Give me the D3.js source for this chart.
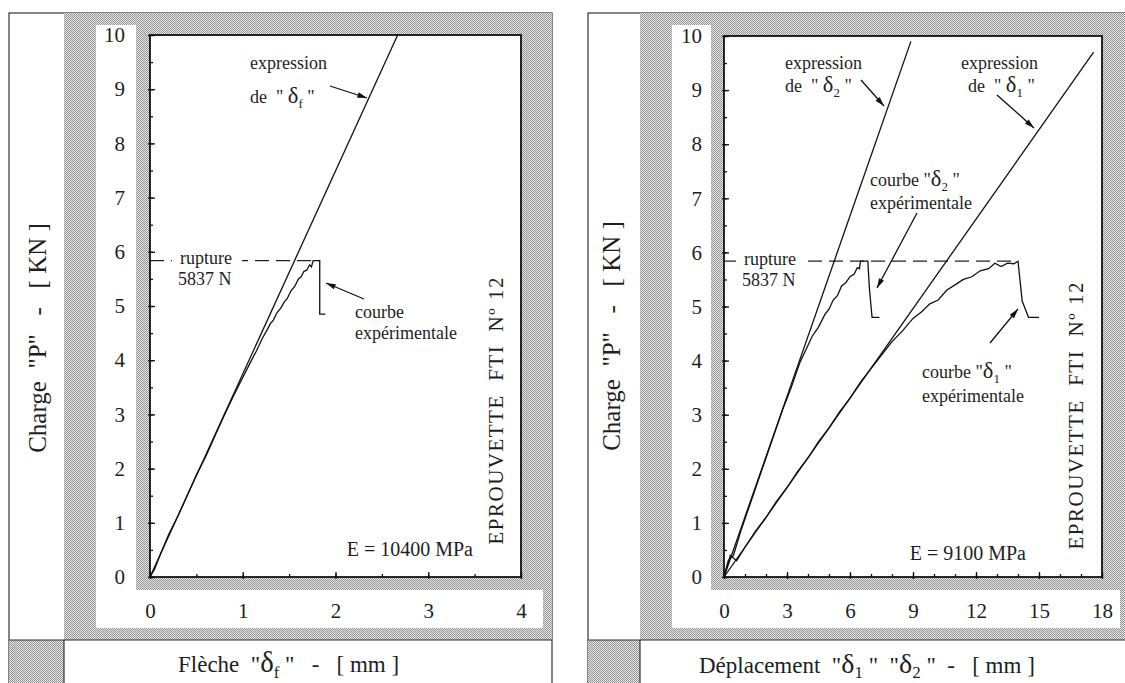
<!DOCTYPE html>
<html>
<head>
<meta charset="utf-8">
<script src="https://d3js.org/d3.v7.min.js"></script>
<style>
  text, tspan { font-family: "Liberation Serif", "Times New Roman", Tinos, serif; }
</style>
</head>
<body style="margin:0">
<script>
// ---- données ----
const chargeTicks = [0, 1, 2, 3, 4, 5, 6, 7, 8, 9, 10];
const rupture = 5.837;   // kN

// figure de gauche : flèche δf
const flecheTicks = [0, 1, 2, 3, 4];
const flecheTheo = [[0, 0], [2.67, 10]];
const flecheExp = [
  [0.00, 0.00], [0.05, 0.15], [0.12, 0.45], [0.20, 0.78], [0.30, 1.12], [0.40, 1.50],
  [0.50, 1.88], [0.60, 2.22], [0.70, 2.60], [0.80, 2.98], [0.90, 3.34], [1.00, 3.68],
  [1.08, 3.95], [1.15, 4.18], [1.21, 4.40], [1.26, 4.55], [1.30, 4.68], [1.33, 4.74],
  [1.37, 4.88], [1.41, 4.96], [1.45, 5.08], [1.48, 5.14], [1.52, 5.28], [1.56, 5.36],
  [1.60, 5.50], [1.63, 5.54], [1.66, 5.64], [1.69, 5.66], [1.72, 5.76], [1.74, 5.72],
  [1.76, 5.837], [1.83, 5.837], [1.83, 4.85], [1.89, 4.85]
];

// figure de droite : déplacements δ1 et δ2
const deplTicks = [0, 3, 6, 9, 12, 15, 18];
const delta2Theo = [[0, 0], [8.9, 9.9]];
const delta1Theo = [[0, 0], [17.6, 9.7]];
const delta2Exp = [
  [0.0, 0.0], [0.2, 0.3], [0.45, 0.4], [0.8, 0.85], [1.2, 1.3], [1.6, 1.75], [2.0, 2.2],
  [2.4, 2.65], [2.8, 3.1], [3.2, 3.5], [3.6, 3.95], [3.9, 4.2], [4.2, 4.45], [4.5, 4.62],
  [4.8, 4.85], [5.0, 4.95], [5.2, 5.12], [5.4, 5.2], [5.6, 5.38], [5.8, 5.44], [6.0, 5.55],
  [6.2, 5.6], [6.35, 5.72], [6.45, 5.7], [6.5, 5.837], [6.85, 5.837], [6.92, 5.35],
  [7.05, 4.8], [7.4, 4.8]
];
const delta1Exp = [
  [0, 0], [0.3, 0.4], [0.6, 0.3], [1.0, 0.55], [1.5, 0.85], [2.0, 1.1], [2.5, 1.4], [3.0, 1.65],
  [3.5, 1.95], [4.0, 2.2], [4.5, 2.5], [5.0, 2.75], [5.5, 3.05], [6.0, 3.3], [6.5, 3.6],
  [7.0, 3.85], [7.5, 4.1], [8.0, 4.35], [8.5, 4.55], [9.0, 4.78], [9.4, 4.9], [9.8, 5.05],
  [10.2, 5.12], [10.6, 5.3], [11.0, 5.4], [11.4, 5.5], [11.8, 5.55], [12.2, 5.66], [12.6, 5.7],
  [12.9, 5.8], [13.2, 5.74], [13.5, 5.8], [13.8, 5.79], [14.0, 5.837], [14.2, 5.1],
  [14.3, 5.0], [14.5, 4.8], [15.0, 4.8]
];

const FONT = "Liberation Serif, Times New Roman, Tinos, serif";
const INK = "#1e1e1e";

// ---- svg ----
const svg = d3.select("body").append("svg")
  .attr("width", 1125).attr("height", 683)
  .attr("font-family", FONT);

const defs = svg.append("defs");
const pat = defs.append("pattern").attr("id", "hatch")
  .attr("width", 2).attr("height", 2).attr("patternUnits", "userSpaceOnUse");
pat.append("rect").attr("width", 2).attr("height", 2).attr("fill", "#e4e4e4");
pat.append("rect").attr("width", 1).attr("height", 1).attr("fill", "#969696");
pat.append("rect").attr("x", 1).attr("y", 1).attr("width", 1).attr("height", 1).attr("fill", "#969696");

defs.append("marker").attr("id", "arrow")
  .attr("viewBox", "0 0 12 10").attr("refX", 12).attr("refY", 5)
  .attr("markerWidth", 12).attr("markerHeight", 8)
  .attr("markerUnits", "userSpaceOnUse").attr("orient", "auto")
  .append("path").attr("d", "M0,1.5 L12,5 L0,8.5 Z").attr("fill", "#111");

function txt(g, size) {
  return g.append("text")
    .attr("font-family", FONT).attr("font-size", size)
    .style("white-space", "pre").attr("fill", INK);
}

// cadre, fonds tramés, axes
function drawPanel(p) {
  const g = svg.append("g");
  g.append("rect").attr("x", p.x0).attr("y", p.y0)
    .attr("width", p.x1 - p.x0).attr("height", 700 - p.y0)
    .attr("fill", "#fff").attr("stroke", "#333").attr("stroke-width", 1.2);
  g.append("rect").attr("x", p.col).attr("y", p.y0)
    .attr("width", p.x1 - p.col).attr("height", p.yDiv - p.y0).attr("fill", "url(#hatch)");
  g.append("rect").attr("x", p.inX).attr("y", p.inY)
    .attr("width", p.inR - p.inX).attr("height", p.inB - p.inY).attr("fill", "#fff");
  g.append("rect").attr("x", p.backX).attr("y", p.inY)
    .attr("width", p.inR - p.backX).attr("height", p.backB - p.inY).attr("fill", "url(#hatch)");
  // bas : case tramée + titre
  g.append("rect").attr("x", p.x0).attr("y", p.yDiv)
    .attr("width", p.col - p.x0).attr("height", 700 - p.yDiv).attr("fill", "url(#hatch)");
  g.append("line").attr("x1", p.x0).attr("x2", p.x1).attr("y1", p.yDiv).attr("y2", p.yDiv)
    .attr("stroke", "#333").attr("stroke-width", 1.2);
  g.append("line").attr("x1", p.col).attr("x2", p.col).attr("y1", p.yDiv).attr("y2", 700)
    .attr("stroke", "#333").attr("stroke-width", 1.2);

  const x = d3.scaleLinear().domain(p.xDomain).range([p.plotL, p.plotR]);
  const y = d3.scaleLinear().domain([0, 10]).range([p.plotB, p.plotT]);

  g.append("rect").attr("x", p.plotL).attr("y", p.plotT)
    .attr("width", p.plotR - p.plotL).attr("height", p.plotB - p.plotT).attr("fill", "#fff");

  // petites graduations
  g.append("g").attr("transform", `translate(${p.plotL},0)`)
    .call(d3.axisLeft(y).tickValues(d3.range(0, 10.01, 0.5)).tickSize(-3).tickFormat(""))
    .call(a => a.select(".domain").remove());
  g.append("g").attr("transform", `translate(0,${p.plotB})`)
    .call(d3.axisBottom(x).tickValues(d3.range(0, p.xDomain[1] + 0.01, p.xMinor)).tickSize(-3).tickFormat(""))
    .call(a => a.select(".domain").remove());

  // graduations principales
  g.append("g").attr("transform", `translate(${p.plotL},0)`)
    .call(d3.axisLeft(y).tickValues(chargeTicks).tickSize(-5).tickPadding(p.yPad).tickFormat(d3.format("d")))
    .call(a => a.select(".domain").remove())
    .call(a => a.selectAll(".tick line").attr("x1", -2));
  g.append("g").attr("transform", `translate(0,${p.plotB})`)
    .call(d3.axisBottom(x).tickValues(p.xTicks).tickSize(-5).tickPadding(26).tickFormat(d3.format("d")))
    .call(a => a.select(".domain").remove())
    .call(a => a.selectAll(".tick line").attr("y1", 2));
  g.selectAll("g").attr("font-family", FONT).attr("font-size", 21);
  g.selectAll(".tick line").attr("stroke", "#111").attr("stroke-width", 1.3);
  g.selectAll(".tick text").attr("font-family", FONT).attr("fill", INK);

  g.append("rect").attr("x", p.plotL).attr("y", p.plotT)
    .attr("width", p.plotR - p.plotL).attr("height", p.plotB - p.plotT)
    .attr("fill", "none").attr("stroke", "#111").attr("stroke-width", 1.8);

  // titre de l'axe des charges
  txt(g, 25)
    .attr("transform", `translate(${p.yTitleX},${p.yTitleY}) rotate(-90)`)
    .attr("text-anchor", "middle")
    .text('Charge  "P"   -   [ KN ]');

  return { g, x, y };
}

const line = (x, y) => d3.line().x(d => x(d[0])).y(d => y(d[1]));

function deltaText(g, x, y, pre, sub, post, size) {
  const t = txt(g, size).attr("x", x).attr("y", y);
  t.append("tspan").text(pre);
  t.append("tspan").text("δ").attr("font-size", size * 1.25);
  t.append("tspan").attr("dy", size * 0.25).attr("font-size", size * 0.72).text(sub);
  t.append("tspan").attr("dy", -size * 0.25).text(post);
  return t;
}

function arrow(g, x1, y1, x2, y2) {
  g.append("line").attr("x1", x1).attr("y1", y1).attr("x2", x2).attr("y2", y2)
    .attr("stroke", "#111").attr("stroke-width", 1.3).attr("marker-end", "url(#arrow)");
}

function note(g, x, y, s, size) {
  return txt(g, size).attr("x", x).attr("y", y).text(s);
}

function ruptureLine(g, x, y, peakX, tx, ty, gap) {
  g.append("line")
    .attr("x1", x(0)).attr("x2", x(peakX)).attr("y1", y(rupture)).attr("y2", y(rupture))
    .attr("stroke", "#222").attr("stroke-width", 1.2).attr("stroke-dasharray", "14,7");
  g.append("rect").attr("x", tx - 8).attr("y", y(rupture) - 4)
    .attr("width", gap).attr("height", 8).attr("fill", "#fff");
  note(g, tx, ty, "rupture", 18);
  note(g, tx - 2, ty + 21, "5837 N", 18);
}

// ---- figure de gauche ----
const L = drawPanel({
  x0: 9, col: 64, x1: 552, y0: 13, yDiv: 640,
  inX: 96, inY: 25, inR: 543, inB: 628, backX: 136, backB: 590,
  plotL: 150, plotR: 521, plotT: 35, plotB: 577,
  xDomain: [0, 4], xTicks: flecheTicks, xMinor: 0.5, yPad: 25,
  yTitleX: 46, yTitleY: 338
});
{
  const { g, x, y } = L;
  const peak = d3.max(flecheExp.filter(d => d[1] === rupture), d => d[0]);
  ruptureLine(g, x, y, peak, 180, 264, 70);
  g.append("path").datum(flecheTheo).attr("d", line(x, y))
    .attr("fill", "none").attr("stroke", "#111").attr("stroke-width", 1.3);
  g.append("path").datum(flecheExp).attr("d", line(x, y))
    .attr("fill", "none").attr("stroke", "#111").attr("stroke-width", 1.3);

  note(g, 250, 69, "expression", 18);
  deltaText(g, 250, 103, 'de  " ', "f", ' "', 18);
  arrow(g, 330, 86, 367, 98);
  note(g, 355, 318, "courbe", 18);
  note(g, 355, 339, "expérimentale", 18);
  arrow(g, 364, 299, 326, 283);
  note(g, 473, 556, "E = 10400 MPa", 20).attr("text-anchor", "end");
  txt(g, 21).attr("transform", "translate(503,411) rotate(-90)")
    .attr("text-anchor", "middle")
    .attr("textLength", 267).attr("lengthAdjust", "spacing")
    .text("EPROUVETTE  FTI  Nº 12");
  deltaText(g, 178, 672, 'Flèche  "', "f", ' "   -   [ mm ]', 23);
}

// ---- figure de droite ----
const R = drawPanel({
  x0: 588, col: 640, x1: 1135, y0: 13, yDiv: 640,
  inX: 672, inY: 25, inR: 1120, inB: 628, backX: 711, backB: 590,
  plotL: 724, plotR: 1102, plotT: 36, plotB: 577,
  xDomain: [0, 18], xTicks: deplTicks, xMinor: 1, yPad: 22,
  yTitleX: 620, yTitleY: 336
});
{
  const { g, x, y } = R;
  const peak = d3.max(delta1Exp.filter(d => d[1] === rupture), d => d[0]);
  ruptureLine(g, x, y, peak, 744, 265, 72);
  [delta2Theo, delta1Theo, delta2Exp, delta1Exp].forEach(s => {
    g.append("path").datum(s).attr("d", line(x, y))
      .attr("fill", "none").attr("stroke", "#111").attr("stroke-width", 1.3);
  });

  note(g, 785, 69, "expression", 18);
  deltaText(g, 785, 92, 'de  " ', "2", ' "', 18);
  arrow(g, 861, 80, 884, 106);
  note(g, 961, 69, "expression", 18);
  deltaText(g, 968, 92, 'de  " ', "1", ' "', 18);
  arrow(g, 997, 95, 1034, 128);
  deltaText(g, 870, 186, 'courbe "', "2", ' "', 18);
  note(g, 870, 209, "expérimentale", 18);
  arrow(g, 917, 213, 877, 288);
  deltaText(g, 922, 378, 'courbe "', "1", ' "', 18);
  note(g, 922, 402, "expérimentale", 18);
  arrow(g, 990, 343, 1018, 309);
  note(g, 1026, 560, "E = 9100 MPa", 20).attr("text-anchor", "end");
  txt(g, 21).attr("transform", "translate(1083,416) rotate(-90)")
    .attr("text-anchor", "middle")
    .attr("textLength", 267).attr("lengthAdjust", "spacing")
    .text("EPROUVETTE  FTI  Nº 12");

  const t = txt(g, 23).attr("x", 699).attr("y", 673);
  t.append("tspan").text('Déplacement  "');
  t.append("tspan").text("δ").attr("font-size", 28);
  t.append("tspan").attr("dy", 5).attr("font-size", 17).text("1");
  t.append("tspan").attr("dy", -5).text(' "  "');
  t.append("tspan").text("δ").attr("font-size", 28);
  t.append("tspan").attr("dy", 5).attr("font-size", 17).text("2");
  t.append("tspan").attr("dy", -5).text(' "  -   [ mm ]');
}
</script>
</body>
</html>
